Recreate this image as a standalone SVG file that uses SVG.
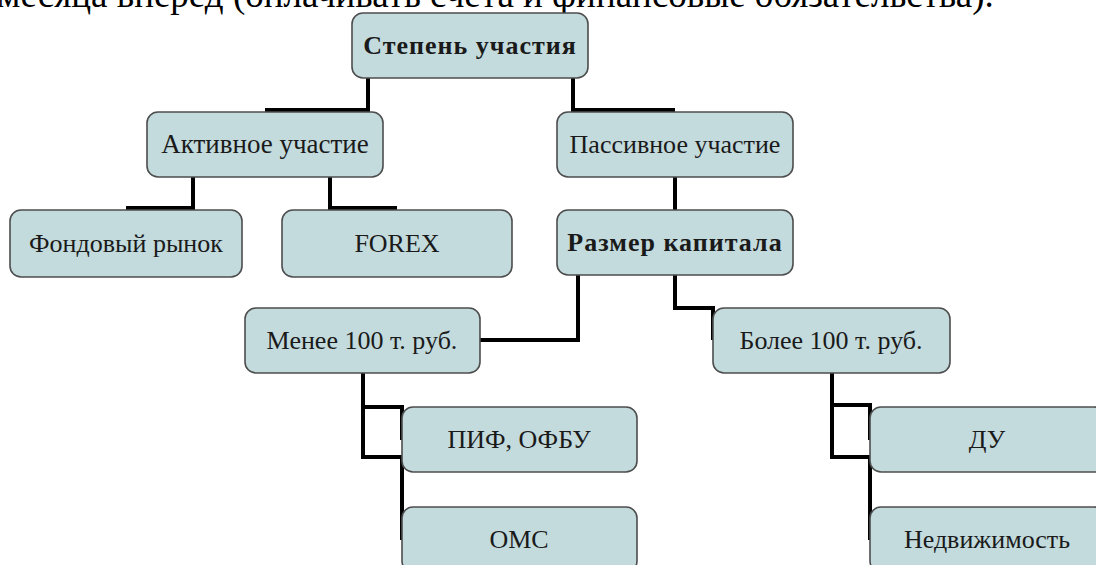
<svg xmlns="http://www.w3.org/2000/svg" width="1096" height="565" viewBox="0 0 1096 565">
<style>
.box{fill:#c3dbdd;stroke:#4d4d4d;stroke-width:1.6}
.lbl{font-family:"Liberation Serif","Times New Roman",serif;font-size:26px;fill:#1a1a1a;text-anchor:middle}
.b{font-weight:bold;letter-spacing:1px}
.con{fill:none;stroke:#000;stroke-width:4;stroke-linejoin:miter}
.top{font-family:"Liberation Serif","Times New Roman",serif;font-size:37px;fill:#000}
</style>
<rect width="1096" height="565" fill="#fff"/>
<text class="top" x="-3" y="7">месяца вперед (оплачивать счета и финансовые обязательства).</text>
<g id="connectors">
<polyline class="con" points="368,78 368,110 265,110"/>
<polyline class="con" points="573,78 573,110 675,110"/>
<polyline class="con" points="193,177 193,208 126,208"/>
<polyline class="con" points="330,177 330,208 397,208"/>
<polyline class="con" points="675,177 675,212"/>
<polyline class="con" points="578,275 578,340 480,340"/>
<polyline class="con" points="675,275 675,308 713,308 713,340"/>
<polyline class="con" points="363,373 363,407 402,407 402,440"/>
<polyline class="con" points="363,405 363,457 402,457 402,540"/>
<polyline class="con" points="832,373 832,405 870,405 870,440"/>
<polyline class="con" points="832,403 832,457 870,457 870,540"/>
</g>
<g id="n-stepen"><rect class="box" x="352" y="13" width="236" height="65" rx="11"/><text class="lbl b" x="470" y="54">Степень участия</text></g>
<g id="n-aktiv"><rect class="box" x="147" y="112" width="236" height="65" rx="11"/><text class="lbl" x="265" y="153" style="font-size:27px">Активное участие</text></g>
<g id="n-passiv"><rect class="box" x="557" y="112" width="236" height="65" rx="11"/><text class="lbl" x="675" y="153">Пассивное участие</text></g>
<g id="n-fond"><rect class="box" x="10" y="210" width="232" height="67" rx="11"/><text class="lbl" x="126" y="252">Фондовый рынок</text></g>
<g id="n-forex"><rect class="box" x="282" y="210" width="230" height="67" rx="11"/><text class="lbl" x="397" y="252">FOREX</text></g>
<g id="n-razmer"><rect class="box" x="557" y="210" width="236" height="65" rx="11"/><text class="lbl b" x="675" y="251">Размер капитала</text></g>
<g id="n-menee"><rect class="box" x="245" y="308" width="235" height="65" rx="11"/><text class="lbl" x="362" y="349">Менее 100 т. руб.</text></g>
<g id="n-bolee"><rect class="box" x="713" y="308" width="237" height="65" rx="11"/><text class="lbl" x="831" y="349">Более 100 т. руб.</text></g>
<g id="n-pif"><rect class="box" x="402" y="407" width="235" height="65" rx="11"/><text class="lbl" x="519" y="448">ПИФ, ОФБУ</text></g>
<g id="n-oms"><rect class="box" x="402" y="507" width="235" height="65" rx="11"/><text class="lbl" x="519" y="548">ОМС</text></g>
<g id="n-du"><rect class="box" x="870" y="407" width="235" height="65" rx="11"/><text class="lbl" x="987" y="448">ДУ</text></g>
<g id="n-nedv"><rect class="box" x="870" y="507" width="235" height="65" rx="11"/><text class="lbl" x="987" y="548">Недвижимость</text></g>
</svg>
